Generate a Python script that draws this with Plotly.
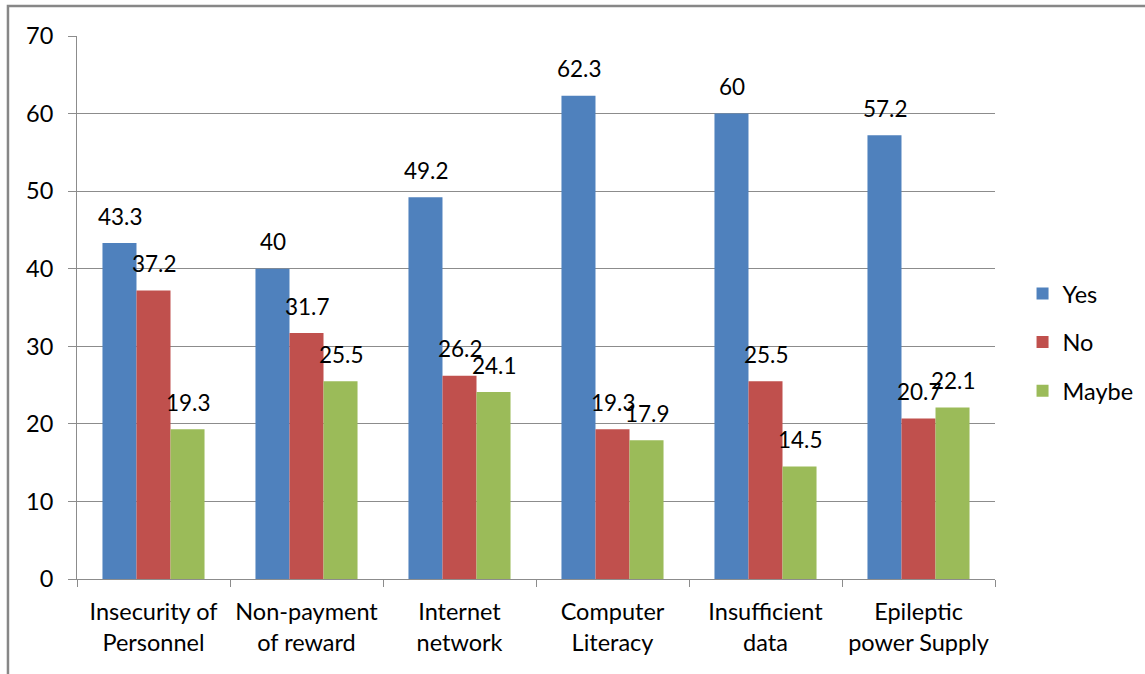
import plotly.graph_objects as go

# Survey responses per obstacle (percent)
categories = ["Insecurity of<br>Personnel", "Non-payment<br>of reward", "Internet<br>network",
              "Computer<br>Literacy", "Insufficient<br>data", "Epileptic<br>power Supply"]
yes_vals = [43.3, 40, 49.2, 62.3, 60, 57.2]
no_vals = [37.2, 31.7, 26.2, 19.3, 25.5, 20.7]
maybe_vals = [19.3, 25.5, 24.1, 17.9, 14.5, 22.1]

series = [("Yes", yes_vals, "#4F81BD"), ("No", no_vals, "#C0504D"), ("Maybe", maybe_vals, "#9BBB59")]

FONT = "Lato, 'Open Sans', sans-serif"
TXT = "#000000"
GRID = "#8C8C8C"

fig = go.Figure()
for name, vals, color in series:
    fig.add_trace(go.Bar(
        name=name, x=categories, y=vals, marker=dict(color=color, line=dict(width=0)),
        offsetgroup=name, legendgroup=name,
    ))

# Value labels above each bar
n = len(series)
for si, (name, vals, color) in enumerate(series):
    for ci, v in enumerate(vals):
        fig.add_annotation(
            x=ci, y=v, xref="x", yref="y", text=f"{v:g}", showarrow=False,
            xshift=(si - (n - 1) / 2) * 34, yshift=27, yanchor="middle",
            font=dict(family=FONT, size=22.5, color=TXT),
        )

# Outer chart border
fig.add_shape(type="rect", xref="paper", yref="paper",
              x0=-0.0752, x1=1.3, y0=-0.3, y1=1.0552,
              line=dict(color="#878787", width=2.5), fillcolor="rgba(0,0,0,0)", layer="below")

fig.update_layout(
    width=1145, height=674,
    margin=dict(l=77, r=150, t=36, b=95, autoexpand=False),
    paper_bgcolor="white", plot_bgcolor="white",
    barmode="group", bargap=0.333, bargroupgap=0,
    font=dict(family=FONT, size=22, color=TXT),
    showlegend=True,
    legend=dict(x=1.03, y=0.436, xanchor="left", yanchor="middle",
                font=dict(family=FONT, size=23.5, color=TXT),
                itemsizing="constant", tracegroupgap=15, itemwidth=30),
)
fig.update_xaxes(
    showline=True, linecolor=GRID, linewidth=1,
    ticks="outside", tickson="boundaries", ticklen=7, tickcolor=GRID,
    tickfont=dict(family=FONT, size=23.5, color=TXT), showgrid=False,
    ticklabelstandoff=12,
)
fig.update_yaxes(
    range=[0, 70], dtick=10, showline=True, linecolor=GRID, linewidth=1,
    ticks="outside", ticklen=8, tickcolor=GRID,
    showgrid=True, gridcolor=GRID, gridwidth=1, zeroline=False,
    tickfont=dict(family=FONT, size=23.5, color=TXT), ticklabelstandoff=10,
)

fig.write_html("out.html")
